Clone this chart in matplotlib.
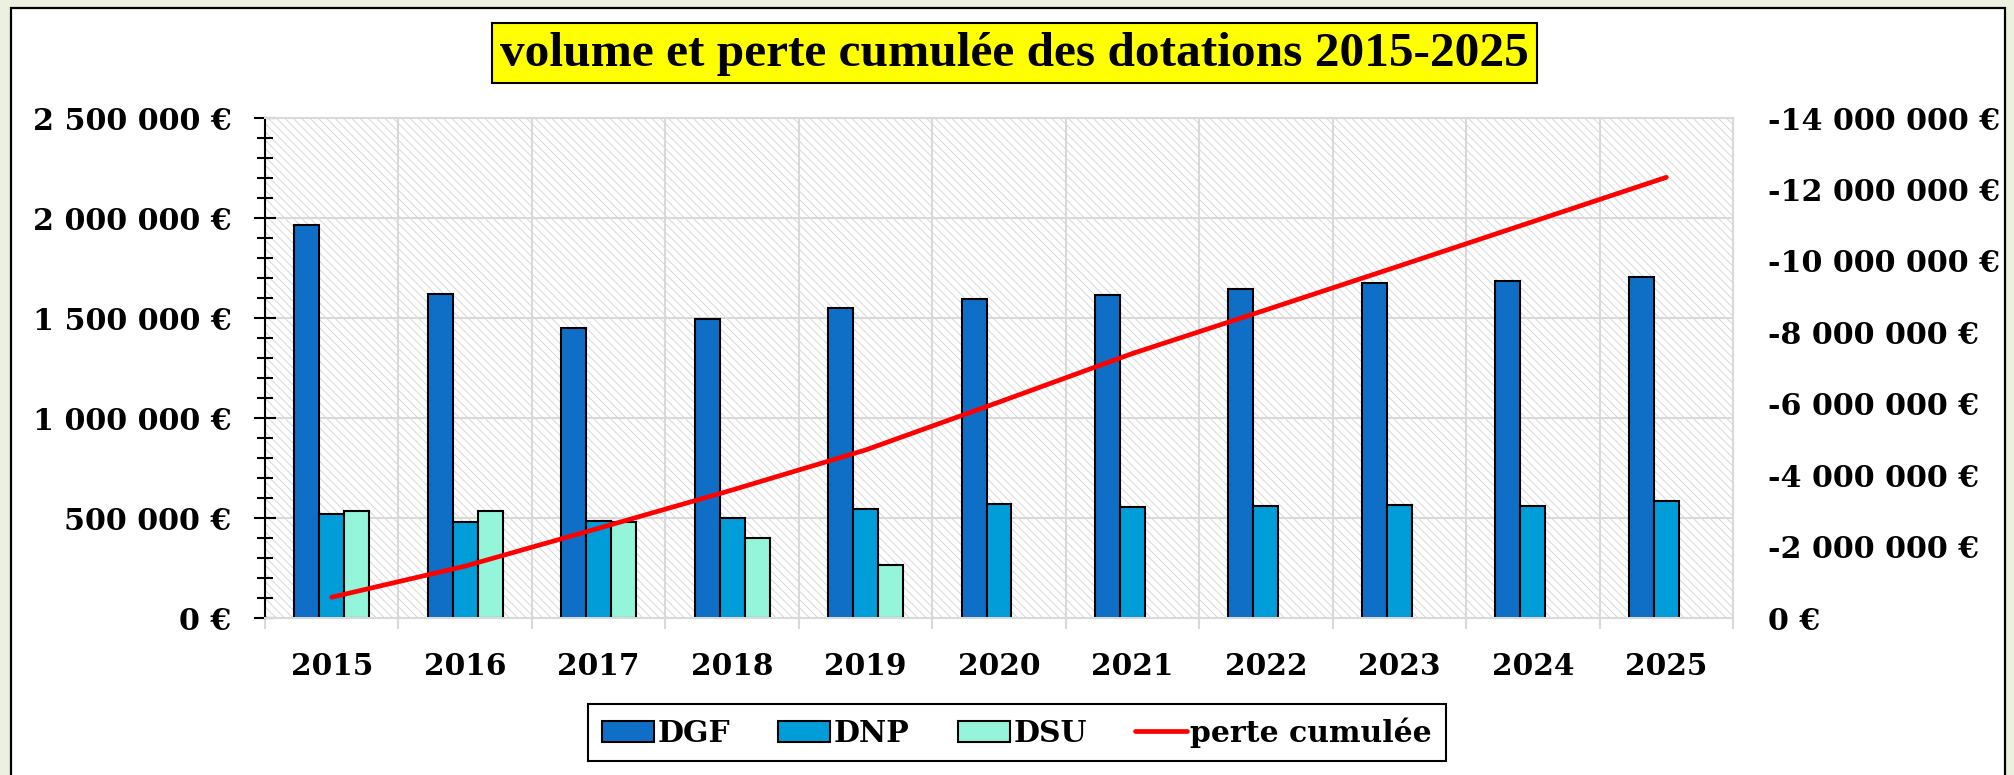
import numpy as np
import matplotlib
matplotlib.use('Agg')
import matplotlib.pyplot as plt
from matplotlib.patches import Rectangle
from matplotlib.ticker import FuncFormatter, MultipleLocator

# data

years = ['2015', '2016', '2017', '2018', '2019', '2020', '2021', '2022', '2023', '2024', '2025']
dgf = [1965000, 1622000, 1450000, 1497000, 1553000, 1595000, 1618000, 1645000, 1675000, 1687000, 1705000]
dnp = [521000, 481000, 485000, 501000, 546000, 571000, 555000, 561000, 566000, 561000, 586000]
dsu = [536000, 536000, 480000, 401000, 266000, 0, 0, 0, 0, 0, 0]
perte = [-590000, -1460000, -2520000, -3590000, -4710000, -6050000,
         -7410000, -8630000, -9860000, -11100000, -12340000]

TITLE = 'volume et perte cumulée des dotations 2015-2025'

plt.rcParams['font.family'] = 'DejaVu Serif'
plt.rcParams['font.weight'] = 'bold'
plt.rcParams['hatch.linewidth'] = 0.6

GRID = '#D9D9D9'


def euro(v, pos):
    return '{:,d} €'.format(int(round(v))).replace(',', ' ')


fig = plt.figure(figsize=(20.15, 7.75), dpi=100, facecolor='#EBF1DE')

# white chart area with black border
fig.add_artist(Rectangle((11 / 2015, -0.02), 1994 / 2015, 1.02 - 8 / 775,
                         transform=fig.transFigure, facecolor='white',
                         edgecolor='black', lw=1.6, zorder=0))

ax = fig.add_axes([265 / 2015, 1 - 618.3 / 775, 1468 / 2015, 500.3 / 775])
ax.set_facecolor('white')
ax.add_patch(Rectangle((0, 0), 1, 1, transform=ax.transAxes, facecolor='none',
                       edgecolor='#D2D2D2', hatch='\\\\\\\\', lw=0, zorder=0.2))

# bars

x = np.arange(len(years))
w = 0.187
dsu_arr = np.array(dsu)
m = dsu_arr > 0

ax.bar(x - w, dgf, w, color='#0F6FC6', edgecolor='black', lw=1.5, zorder=2, label='DGF')
ax.bar(x, dnp, w, color='#009DD9', edgecolor='black', lw=1.5, zorder=2, label='DNP')
ax.bar(x[m] + w, dsu_arr[m], w, color='#95F5DA', edgecolor='black', lw=1.5, zorder=2, label='DSU')

ax.set_xlim(-0.5, len(years) - 0.5)
ax.set_ylim(0, 2500000)
ax.yaxis.set_major_locator(MultipleLocator(500000))
ax.yaxis.set_minor_locator(MultipleLocator(100000))
ax.yaxis.set_major_formatter(FuncFormatter(euro))
ax.set_xticks(x)
ax.set_xticklabels(years)
ax.set_xticks(np.arange(-0.5, len(years)), minor=True)

ax.tick_params(axis='y', which='major', direction='inout', length=16.5, width=1.5,
               pad=16, labelsize=21.7, color='black')
ax.tick_params(axis='y', which='minor', direction='inout', length=12, width=1.5, color='black')
ax.tick_params(axis='x', which='major', length=0, pad=24, labelsize=21.3)
ax.tick_params(axis='x', which='minor', length=8, width=1.5, color=GRID)

ax.set_axisbelow(True)
ax.grid(axis='y', which='major', color=GRID, lw=1.5)
ax.grid(axis='x', which='minor', color=GRID, lw=1.5)

for s in ['top', 'right', 'bottom']:
    ax.spines[s].set_color(GRID)
    ax.spines[s].set_linewidth(1.5)
ax.spines['left'].set_color('black')
ax.spines['left'].set_linewidth(1.5)

# cumulative loss on the inverted right axis

ax2 = ax.twinx()
ax2.plot(x, perte, color='#FF0000', lw=3.4, solid_capstyle='round', label='perte cumulée')
ax2.set_ylim(0, -14000000)
ax2.set_yticks(np.arange(0, -14000001, -2000000))
ax2.yaxis.set_major_formatter(FuncFormatter(euro))
ax2.tick_params(axis='y', length=0, pad=25, labelsize=21.7)
for s in ax2.spines.values():
    s.set_visible(False)

# title in a yellow box

fig.add_artist(Rectangle((492 / 2015, 1 - 83 / 775), 1045 / 2015, 60 / 775,
                         transform=fig.transFigure, facecolor='#FFFF00',
                         edgecolor='black', lw=1.5, zorder=1))
fig.text(1014.5 / 2015, 1 - 54 / 775, TITLE, ha='center', va='center',
         family='Liberation Serif', weight='bold', fontsize=35.6, zorder=2)

# legend

h1, l1 = ax.get_legend_handles_labels()
h2, l2 = ax2.get_legend_handles_labels()
leg = fig.legend(h1 + h2, l1 + l2, loc='center', bbox_to_anchor=(1017 / 2015, 1 - 732.5 / 775),
                 ncol=4, fancybox=False, framealpha=1, edgecolor='black',
                 prop={'family': 'DejaVu Serif', 'weight': 'bold', 'size': 21.5},
                 handlelength=1.75, handleheight=0.68, handletextpad=0.12,
                 columnspacing=1.6, borderpad=0.45, borderaxespad=0)
leg.get_frame().set_linewidth(1.5)

fig.savefig('out.png', dpi=100, facecolor=fig.get_facecolor())
